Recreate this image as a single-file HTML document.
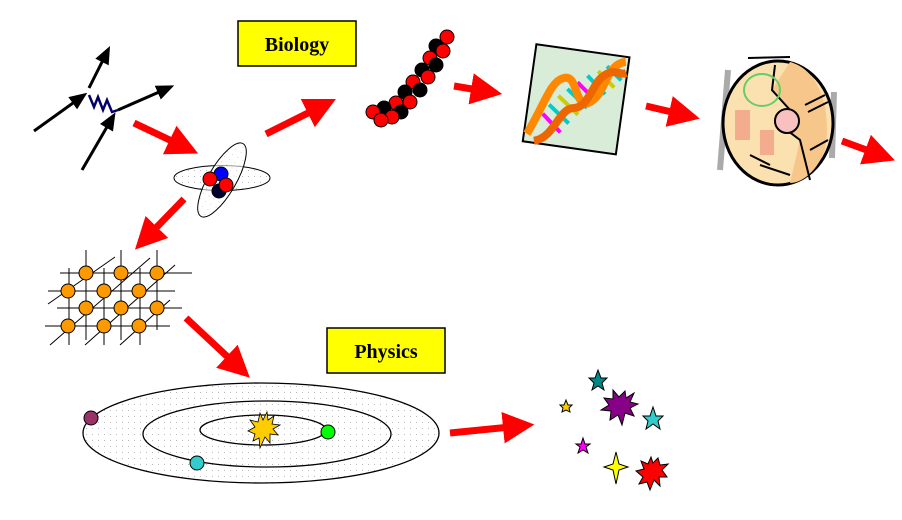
<!DOCTYPE html>
<html><head><meta charset="utf-8"><style>body{margin:0;background:#fff}svg{display:block}</style></head><body>
<svg width="902" height="520" viewBox="0 0 902 520" xmlns="http://www.w3.org/2000/svg">
<defs>
<marker id="rh" markerWidth="4.5" markerHeight="4.5" refX="1" refY="2.25" orient="auto" markerUnits="strokeWidth"><path d="M0,0 L4.5,2.25 L0,4.5 z" fill="#f00"/></marker>
<marker id="bh" markerWidth="6" markerHeight="6" refX="3" refY="3" orient="auto" markerUnits="strokeWidth"><path d="M0,0.5 L6,3 L0,5.5 z" fill="#000"/></marker>
<pattern id="dots" width="6" height="6" patternUnits="userSpaceOnUse"><rect width="6" height="6" fill="#fff"/><rect x="2" y="2" width="1" height="1" fill="#bbb"/></pattern>
</defs>
<!-- Feynman -->
<g stroke="#000" stroke-width="3" fill="none">
<line x1="34" y1="131" x2="80" y2="98" marker-end="url(#bh)"/>
<line x1="82" y1="170" x2="111" y2="120" marker-end="url(#bh)"/>
<line x1="89" y1="88" x2="106" y2="54" marker-end="url(#bh)"/>
<line x1="118" y1="110" x2="166" y2="89" marker-end="url(#bh)"/>
</g>
<path d="M89,95 L94,107 L98,97 L103,110 L107,100 L112,112 L118,110" stroke="#006" stroke-width="2.5" fill="none"/>
<!-- red arrows -->
<g stroke="#f00" stroke-width="7" fill="none" marker-end="url(#rh)">
<line x1="134" y1="123" x2="176" y2="143"/>
<line x1="266" y1="134" x2="314" y2="110"/>
<line x1="454" y1="86" x2="478" y2="90"/>
<line x1="646" y1="106" x2="676" y2="113"/>
<line x1="842" y1="141" x2="872" y2="152"/>
<line x1="184" y1="199" x2="152" y2="232"/>
<line x1="186" y1="318" x2="232" y2="361"/>
<line x1="450" y1="433" x2="510" y2="427"/>
</g>
<!-- atom -->
<ellipse cx="222" cy="178" rx="48" ry="12.5" fill="url(#dots)" stroke="#000"/>
<ellipse cx="222" cy="180" rx="14" ry="42" transform="rotate(30 222 180)" fill="url(#dots)" fill-opacity="0.6" stroke="#000"/>
<circle cx="221" cy="174" r="7" fill="#00f" stroke="#000"/>
<circle cx="210" cy="179" r="7" fill="#f00" stroke="#000"/>
<circle cx="219" cy="191" r="7" fill="#003" stroke="#000"/>
<circle cx="226" cy="185" r="7" fill="#f00" stroke="#000"/>
<!-- Biology box -->
<rect x="238" y="21" width="118" height="45" fill="#ff0" stroke="#000" stroke-width="1.5"/>
<text x="297" y="51" text-anchor="middle" font-family="Liberation Serif, serif" font-weight="bold" font-size="20">Biology</text>
<!-- bead chain -->
<g stroke="#000" stroke-width="1">
<circle cx="447" cy="37" r="7" fill="#f00"/><circle cx="436" cy="46" r="7" fill="#000"/><circle cx="443" cy="51" r="7" fill="#f00"/>
<circle cx="430" cy="58" r="7" fill="#f00"/><circle cx="436" cy="65" r="7" fill="#000"/><circle cx="422" cy="70" r="7" fill="#000"/>
<circle cx="428" cy="77" r="7" fill="#f00"/><circle cx="413" cy="82" r="7" fill="#f00"/><circle cx="420" cy="90" r="7" fill="#000"/>
<circle cx="405" cy="92" r="7" fill="#000"/><circle cx="410" cy="102" r="7" fill="#f00"/><circle cx="396" cy="103" r="7" fill="#f00"/>
<circle cx="401" cy="112" r="7" fill="#000"/><circle cx="384" cy="108" r="7" fill="#000"/><circle cx="392" cy="117" r="7" fill="#f00"/>
<circle cx="373" cy="112" r="7" fill="#f00"/><circle cx="381" cy="120" r="7" fill="#f00"/>
</g>
<!-- DNA picture -->
<g transform="rotate(8 574 100)">
<rect x="529" y="50" width="94" height="98" fill="#d8ecd8" stroke="#000" stroke-width="2"/>
<g stroke-width="4">
<line x1="545" y1="118" x2="565" y2="134" stroke="#f0f"/><line x1="550" y1="108" x2="572" y2="124" stroke="#0cc"/><line x1="558" y1="98" x2="580" y2="114" stroke="#cc0"/><line x1="566" y1="90" x2="588" y2="106" stroke="#0cc"/><line x1="575" y1="82" x2="596" y2="98" stroke="#f0f"/><line x1="584" y1="74" x2="604" y2="90" stroke="#0cc"/><line x1="594" y1="68" x2="612" y2="82" stroke="#cc0"/><line x1="602" y1="62" x2="618" y2="74" stroke="#0cc"/>
</g>
<path d="M532,140 C545,110 548,85 560,80 C575,72 575,110 590,100 C605,90 600,60 620,55" stroke="#f80" stroke-width="8" fill="none"/>
<path d="M540,146 C560,140 560,110 575,108 C590,105 590,80 600,72 C610,62 615,70 622,66" stroke="#e60" stroke-width="8" fill="none"/>
</g>
<!-- cell -->
<path d="M728,70 L720,170 M834,92 L832,158" stroke="#aaa" stroke-width="6"/>
<ellipse cx="778" cy="123" rx="55" ry="62" fill="#fbe0b0" stroke="#000" stroke-width="3"/>
<path d="M790,62 C820,70 832,110 825,150 C815,175 800,183 790,183 L800,140 L780,125 L790,110 L772,90 Z" fill="#f7c68a"/>
<path d="M775,65 L772,90 L790,110 L780,125 L800,140 L810,180" stroke="#000" stroke-width="2" fill="none"/>
<circle cx="787" cy="121" r="12" fill="#f9c0c0" stroke="#000" stroke-width="2"/>
<ellipse cx="762" cy="90" rx="18" ry="16" fill="none" stroke="#6c6" stroke-width="2"/>
<g fill="#e87" ><rect x="735" y="110" width="15" height="30" opacity="0.6"/><rect x="760" y="130" width="14" height="25" opacity="0.6"/></g>
<g stroke="#000" stroke-width="2"><line x1="805" y1="105" x2="825" y2="95"/><line x1="808" y1="112" x2="828" y2="102"/><line x1="810" y1="150" x2="828" y2="140"/><line x1="760" y1="165" x2="790" y2="175"/><line x1="750" y1="155" x2="770" y2="165"/></g>
<path d="M748,58 L790,57" stroke="#000" stroke-width="2"/>
<!-- lattice -->
<g stroke="#000" stroke-width="1">
<line x1="60" y1="273" x2="192" y2="273"/><line x1="48" y1="291" x2="175" y2="291"/><line x1="57" y1="308" x2="182" y2="308"/><line x1="45" y1="326" x2="170" y2="326"/>
<line x1="69" y1="268" x2="69" y2="345"/><line x1="86" y1="250" x2="86" y2="340"/><line x1="104" y1="268" x2="104" y2="345"/><line x1="121" y1="250" x2="121" y2="340"/><line x1="140" y1="268" x2="140" y2="345"/><line x1="157" y1="250" x2="157" y2="330"/>
<line x1="48" y1="304" x2="115" y2="257"/><line x1="50" y1="345" x2="150" y2="258"/><line x1="85" y1="345" x2="175" y2="265"/><line x1="120" y1="345" x2="170" y2="300"/>
</g>
<g fill="#f90" stroke="#000">
<circle cx="86" cy="273" r="7"/><circle cx="121" cy="273" r="7"/><circle cx="157" cy="273" r="7"/>
<circle cx="68" cy="291" r="7"/><circle cx="104" cy="291" r="7"/><circle cx="139" cy="291" r="7"/>
<circle cx="86" cy="308" r="7"/><circle cx="121" cy="308" r="7"/><circle cx="157" cy="308" r="7"/>
<circle cx="68" cy="326" r="7"/><circle cx="104" cy="326" r="7"/><circle cx="139" cy="326" r="7"/>
</g>
<!-- Physics box -->
<rect x="327" y="328" width="118" height="45" fill="#ff0" stroke="#000" stroke-width="1.5"/>
<text x="386" y="358" text-anchor="middle" font-family="Liberation Serif, serif" font-weight="bold" font-size="20">Physics</text>
<!-- solar system -->
<ellipse cx="261" cy="433" rx="178" ry="50" fill="url(#dots)" stroke="#000" stroke-width="1.3"/>
<ellipse cx="267" cy="434" rx="124" ry="33" fill="none" stroke="#000" stroke-width="1.3"/>
<ellipse cx="263" cy="430" rx="63" ry="15" fill="none" stroke="#000" stroke-width="1.3"/>
<polygon points="267,412 268,420 274,416 272,424 280,425 273,429 278,435 270,434 270,443 265,437 260,448 259,438 253,441 255,434 248,431 255,427 250,420 258,422 260,413 263,420" fill="#fc0" stroke="#000" stroke-width="0.8"/>
<circle cx="91" cy="418" r="7" fill="#936" stroke="#000"/>
<circle cx="328" cy="432" r="7" fill="#0f0" stroke="#000"/>
<circle cx="197" cy="463" r="7" fill="#3cc" stroke="#000"/>
<!-- stars -->
<g stroke="#000" stroke-width="1">
<polygon points="598,370 601,378 607,378 602,383 604,390 598,386 592,390 594,383 589,378 595,378" fill="#088"/>
<polygon points="566,400 568,405 572,405 569,408 570,412 566,410 562,412 563,408 560,405 564,405" fill="#fc0"/>
<polygon points="653,407 656,416 663,416 658,421 660,429 653,424 646,429 648,421 643,416 650,416" fill="#3cc"/>
<polygon points="583,438 585,444 590,444 586,447 588,453 583,450 578,453 580,447 576,444 581,444" fill="#f0f"/>
<polygon points="616,452 619,464 628,467 619,470 616,484 613,470 604,467 613,464" fill="#ff0"/>
<polygon points="625,391 626,398 634,393 630,402 638,404 630,408 634,416 625,413 622,425 618,415 610,420 611,411 601,410 609,405 604,398 613,399 613,390 619,397" fill="#808"/>
<polygon points="658,458 660,465 668,464 662,470 667,477 659,477 660,486 654,480 650,490 647,482 639,484 643,477 636,471 644,469 641,461 648,464 651,457 653,463" fill="#f00"/>
</g>
</svg>
</body></html>
